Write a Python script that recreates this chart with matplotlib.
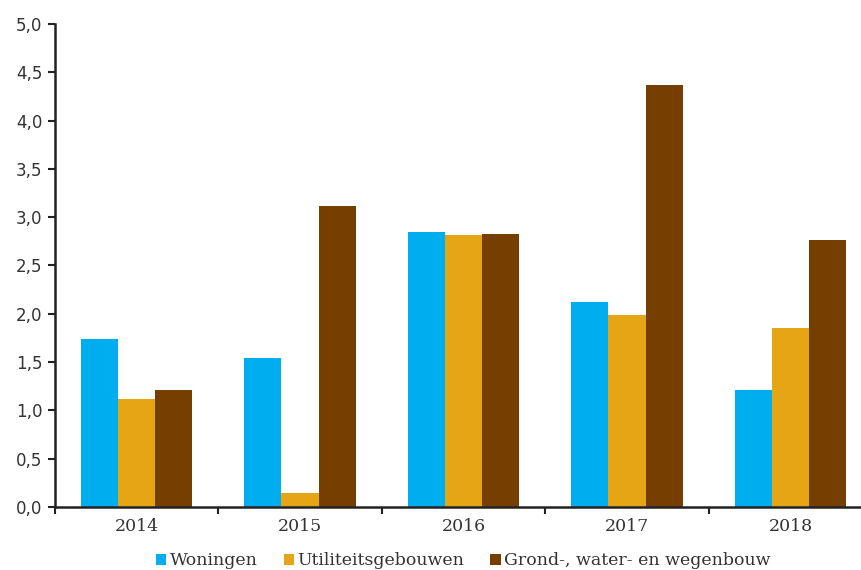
import matplotlib.pyplot as plt
import numpy as np

years = ["2014", "2015", "2016", "2017", "2018"]
woningen = [1.74, 1.54, 2.85, 2.12, 1.21]
utiliteit = [1.12, 0.14, 2.82, 1.99, 1.85]
gww = [1.21, 3.12, 2.83, 4.37, 2.76]

series = [
    ("Woningen", woningen, "#00AEEF"),
    ("Utiliteitsgebouwen", utiliteit, "#E6A515"),
    ("Grond-, water- en wegenbouw", gww, "#763F00"),
]

fig = plt.figure(figsize=(8.61, 5.70), dpi=100)
# axes run a little past the right edge of the figure
ax = fig.add_axes([0.0636, 0.1105, 0.9495, 0.8475])

x = np.arange(len(years))
w = 0.227
for i, (name, vals, col) in enumerate(series):
    ax.bar(x + (i - 1) * w, vals, width=w, color=col, label=name, zorder=2)

ax.set_xlim(-0.5, len(years) - 0.5)
ax.set_ylim(0, 5)
ax.set_yticks(np.arange(0, 5.01, 0.5))
ax.set_yticklabels([f"{v:.1f}".replace(".", ",") for v in np.arange(0, 5.01, 0.5)],
                   fontsize=12, color="#333333", family="DejaVu Sans")

# year labels centred, tick marks on group boundaries
ax.set_xticks(x)
ax.set_xticklabels(years, fontsize=12.5, color="#333333", family="DejaVu Serif")
ax.tick_params(axis="x", which="major", length=0, pad=8)
ax.set_xticks(np.arange(-0.5, len(years)), minor=True)
ax.tick_params(axis="x", which="minor", length=5, width=1.5, color="#222222")
ax.tick_params(axis="y", length=5, width=1.5, color="#222222", pad=4)

for s in ["top", "right"]:
    ax.spines[s].set_visible(False)
for s in ["left", "bottom"]:
    ax.spines[s].set_linewidth(1.8)
    ax.spines[s].set_color("#222222")

leg = fig.legend(loc="lower center", bbox_to_anchor=(0.538, -0.026), ncol=3, frameon=False,
                 handlelength=0.6, handleheight=0.6, handletextpad=0.2, columnspacing=1.5,
                 prop={"family": "DejaVu Serif", "size": 12.5})
for t in leg.get_texts():
    t.set_color("#333333")

fig.savefig("out.png", dpi=100)
